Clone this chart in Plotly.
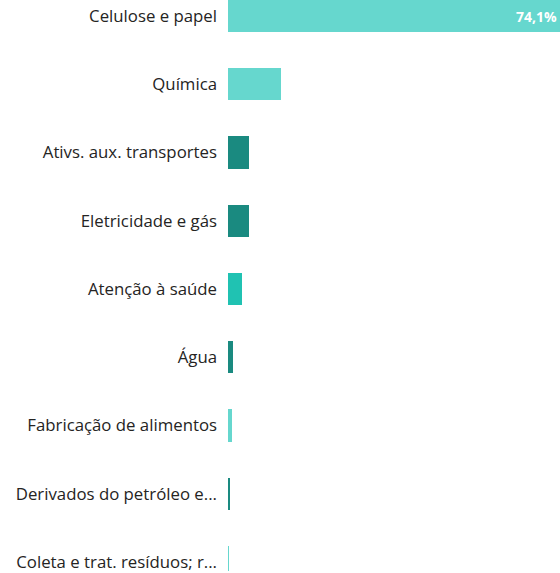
import plotly.graph_objects as go

categories = [
    "Celulose e papel",
    "Química",
    "Ativs. aux. transportes",
    "Eletricidade e gás",
    "Atenção à saúde",
    "Água",
    "Fabricação de alimentos",
    "Derivados do petróleo e...",
    "Coleta e trat. resíduos; r...",
]
shares = [74.1, 11.8, 4.7, 4.6, 3.1, 1.1, 0.9, 0.3, 0.1]

LIGHT = "#66D7CE"
DARK = "#1A8A80"
MID = "#20C2B2"
bar_colors = [LIGHT, LIGHT, DARK, DARK, MID, DARK, LIGHT, DARK, LIGHT]

# only the largest bar carries a data label
labels = [f"{shares[0]:.1f}%".replace(".", ",")] + [""] * (len(shares) - 1)

fig = go.Figure(
    go.Bar(
        x=shares,
        y=categories,
        orientation="h",
        marker=dict(color=bar_colors, line=dict(width=0)),
        width=0.475,
        text=labels,
        textposition="inside",
        insidetextanchor="end",
        textfont=dict(family="Open Sans", size=14, color="white", weight="bold"),
        cliponaxis=True,
        hoverinfo="x+y",
    )
)

fig.update_layout(
    width=560,
    height=573,
    margin=dict(l=228, r=0, t=0, b=0),
    plot_bgcolor="white",
    paper_bgcolor="white",
    font=dict(family="Open Sans", size=16.8, color="#252423"),
    showlegend=False,
    bargap=0,
)
fig.update_xaxes(range=[0, 74.1], visible=False)
fig.update_yaxes(
    range=[8.131, -0.234],
    showgrid=False,
    zeroline=False,
    showline=False,
    ticks="",
    ticklabelstandoff=10,
    tickfont=dict(family="Open Sans", size=16.8, color="#252423"),
)

# drop the page's default body margin so the figure sits at the window's corner
fig.write_html(
    "out.html",
    config={"displayModeBar": False},
    post_script="document.body.style.margin='0';",
)
